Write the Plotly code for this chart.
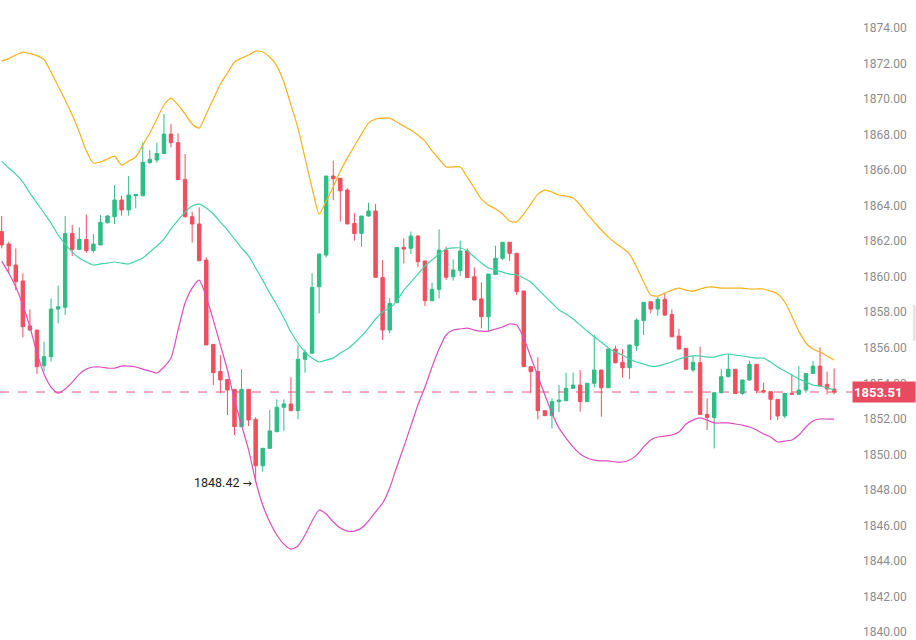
import plotly.graph_objects as go

opens = [1862.54,1861.84,1860.66,1859.76,1857.23,1857.00,1854.99,1855.50,1858.18,1858.28,
         1862.44,1861.54,1862.10,1861.47,1861.79,1863.04,1863.38,1864.32,1863.76,1864.56,
         1864.56,1866.42,1866.57,1866.94,1868.03,1867.55,1865.48,1863.38,1862.97,1860.94,
         1856.19,1854.66,1854.22,1853.66,1851.56,1853.66,1851.97,1849.36,1850.34,1851.28,
         1852.65,1852.84,1852.46,1855.35,1855.69,1859.44,1861.22,1865.67,1865.54,1864.88,
         1863.00,1862.44,1863.42,1863.70,1859.95,1857.00,1858.54,1861.65,1861.60,1862.29,
         1860.89,1858.65,1859.29,1861.50,1860.00,1860.34,1861.45,1860.00,1858.75,1857.75,
         1860.13,1861.04,1861.94,1861.32,1859.20,1854.94,1854.66,1852.46,1852.18,1852.97,
         1853.02,1853.72,1853.90,1852.97,1854.00,1854.75,1853.75,1855.93,1855.18,1854.88,
         1856.12,1857.53,1858.59,1858.18,1858.73,1857.88,1856.66,1855.97,1854.75,1855.16,
         1852.25,1852.08,1853.47,1854.37,1854.79,1853.43,1854.19,1855.07,1853.59,1853.53,
         1853.10,1852.16,1853.43,1853.38,1853.62,1854.56,1854.97,1853.94,1853.68]
highs = [1863.42,1861.97,1861.60,1860.19,1858.16,1857.00,1856.34,1858.78,1859.50,1863.42,
         1862.91,1862.78,1863.51,1862.40,1863.47,1863.47,1865.16,1864.56,1865.67,1864.64,
         1867.56,1867.13,1867.55,1869.16,1868.60,1868.07,1866.91,1863.66,1863.91,1861.09,
         1856.19,1855.59,1854.22,1853.66,1854.79,1853.66,1852.09,1850.34,1852.50,1853.10,
         1853.10,1854.34,1856.16,1855.91,1860.19,1861.28,1865.67,1866.53,1865.54,1864.98,
         1863.57,1863.42,1864.17,1864.09,1860.94,1858.78,1861.64,1862.16,1862.54,1862.35,
         1860.89,1859.67,1862.67,1861.69,1860.98,1862.03,1861.60,1860.53,1859.68,1860.15,
         1861.75,1861.94,1861.94,1861.32,1859.20,1854.94,1855.46,1852.46,1853.16,1853.90,
         1854.60,1854.60,1854.75,1854.04,1856.72,1854.75,1855.93,1856.12,1855.93,1856.16,
         1857.66,1858.56,1858.59,1858.88,1859.06,1858.16,1857.06,1855.97,1855.56,1856.06,
         1853.15,1853.47,1854.79,1855.65,1854.79,1854.19,1855.27,1855.07,1854.04,1853.53,
         1853.10,1853.47,1854.51,1854.97,1854.56,1855.26,1856.03,1854.66,1854.84]
lows = [1861.60,1860.19,1859.25,1856.59,1856.96,1854.52,1854.66,1855.22,1857.38,1857.85,
        1861.17,1861.50,1861.35,1861.35,1861.79,1863.00,1862.97,1863.44,1863.44,1863.85,
        1864.56,1866.38,1866.42,1866.91,1867.28,1865.44,1863.34,1861.92,1860.90,1856.16,
        1853.91,1853.44,1852.22,1851.09,1851.56,1851.60,1848.42,1849.03,1850.30,1851.24,
        1851.33,1852.46,1851.97,1854.60,1855.69,1857.94,1861.09,1864.32,1863.10,1862.97,
        1862.03,1861.69,1863.38,1859.97,1856.44,1856.81,1858.54,1860.75,1861.28,1860.53,
        1858.35,1858.65,1858.78,1859.82,1859.78,1860.04,1859.95,1858.69,1857.10,1856.91,
        1860.13,1860.94,1860.89,1858.97,1854.94,1853.44,1851.97,1852.18,1851.47,1852.37,
        1853.02,1853.68,1852.40,1852.97,1853.77,1852.12,1853.75,1855.12,1854.32,1854.24,
        1855.82,1856.72,1857.94,1857.81,1857.79,1856.62,1855.91,1854.79,1854.65,1852.25,
        1851.37,1850.34,1853.43,1854.34,1853.40,1853.34,1854.15,1853.43,1853.43,1851.93,
        1851.93,1852.03,1853.38,1853.34,1853.47,1854.52,1853.85,1853.38,1853.38]
closes = [1861.79,1860.62,1859.72,1857.19,1857.00,1854.94,1855.50,1858.18,1858.31,1862.44,
          1861.54,1862.10,1861.47,1861.84,1863.06,1863.42,1864.32,1863.76,1864.60,1864.64,
          1866.44,1866.61,1866.94,1868.03,1867.55,1865.48,1863.38,1862.97,1860.90,1856.16,
          1854.60,1854.19,1853.62,1851.56,1853.66,1851.94,1849.36,1850.34,1851.32,1852.65,
          1852.84,1852.46,1855.35,1855.73,1859.40,1861.28,1865.67,1865.52,1864.84,1862.97,
          1862.44,1863.42,1863.70,1859.97,1857.00,1858.50,1861.64,1861.56,1862.29,1860.85,
          1858.65,1859.29,1861.50,1859.97,1860.38,1861.45,1859.95,1858.69,1857.75,1860.15,
          1861.04,1861.94,1861.32,1859.16,1854.94,1854.66,1852.46,1852.18,1852.97,1853.06,
          1853.72,1853.90,1852.97,1854.00,1854.75,1853.75,1855.93,1855.16,1854.88,1856.16,
          1857.56,1858.56,1858.18,1858.73,1857.84,1856.62,1855.93,1854.79,1855.18,1852.25,
          1852.08,1853.47,1854.37,1854.79,1853.43,1854.19,1855.07,1853.59,1853.53,1853.10,
          1852.16,1853.43,1853.38,1853.62,1854.56,1854.97,1853.85,1853.68,1853.51]

upper_band = [1872.14,1872.28,1872.48,1872.65,1872.56,1872.45,1872.23,1871.52,1870.73,1869.95,
              1869.10,1868.15,1867.08,1866.40,1866.46,1866.63,1866.79,1866.29,1866.51,1866.74,
              1867.41,1868.09,1868.88,1869.67,1870.06,1869.67,1869.16,1868.60,1868.37,1869.16,
              1870.00,1870.85,1871.47,1872.09,1872.31,1872.48,1872.70,1872.65,1872.37,1871.86,
              1870.96,1869.67,1868.37,1866.68,1864.99,1863.53,1864.26,1865.05,1865.95,1866.68,
              1867.36,1868.03,1868.65,1868.88,1868.93,1868.93,1868.71,1868.48,1868.26,1867.98,
              1867.64,1867.08,1866.63,1866.18,1866.18,1866.18,1865.61,1864.99,1864.37,1864.04,
              1863.81,1863.53,1863.14,1863.08,1863.53,1864.09,1864.65,1864.88,1864.77,1864.60,
              1864.54,1864.43,1864.04,1863.53,1863.08,1862.63,1862.23,1861.90,1861.61,1861.28,
              1860.55,1859.70,1858.97,1858.91,1859.08,1859.25,1859.36,1859.25,1859.19,1859.31,
              1859.42,1859.42,1859.36,1859.36,1859.36,1859.36,1859.31,1859.31,1859.31,1859.19,
              1859.03,1858.58,1857.79,1856.94,1856.27,1855.93,1855.76,1855.54,1855.31]
middle_band = [1866.51,1866.12,1865.78,1865.33,1864.71,1864.15,1863.59,1863.02,1862.35,1861.84,
               1861.39,1861.05,1860.83,1860.66,1860.72,1860.77,1860.83,1860.77,1860.72,1860.88,
               1861.05,1861.39,1861.73,1862.12,1862.69,1863.19,1863.64,1863.98,1864.09,1863.87,
               1863.53,1863.08,1862.63,1862.12,1861.62,1861.17,1860.49,1859.81,1859.08,1858.41,
               1857.68,1856.89,1856.27,1855.76,1855.42,1855.20,1855.31,1855.42,1855.71,1855.93,
               1856.27,1856.66,1857.11,1857.62,1858.02,1858.24,1858.63,1859.25,1859.70,1860.15,
               1860.60,1860.94,1861.28,1861.56,1861.62,1861.62,1861.45,1861.11,1860.77,1860.49,
               1860.38,1860.26,1860.15,1860.10,1859.93,1859.70,1859.31,1858.91,1858.52,1858.13,
               1857.90,1857.62,1857.28,1856.94,1856.61,1856.33,1855.99,1855.76,1855.59,1855.37,
               1855.20,1855.09,1854.97,1854.97,1855.09,1855.20,1855.37,1855.48,1855.54,1855.54,
               1855.48,1855.48,1855.59,1855.65,1855.59,1855.54,1855.48,1855.42,1855.42,1855.20,
               1854.92,1854.69,1854.47,1854.24,1854.07,1853.90,1853.85,1853.74,1853.62]
lower_band = [1860.88,1860.21,1859.42,1858.41,1857.17,1855.71,1854.52,1853.79,1853.45,1853.68,
              1854.07,1854.52,1854.80,1854.92,1854.92,1854.86,1854.86,1854.97,1854.97,1854.92,
              1854.80,1854.69,1854.58,1854.92,1855.42,1857.00,1858.52,1859.36,1859.81,1858.86,
              1857.56,1856.16,1854.75,1853.06,1851.65,1850.25,1848.50,1847.15,1846.19,1845.46,
              1844.95,1844.67,1844.84,1845.46,1846.25,1846.87,1846.64,1846.19,1845.85,1845.68,
              1845.68,1845.85,1846.25,1846.76,1847.26,1848.11,1849.29,1850.42,1851.60,1852.78,
              1853.79,1854.92,1855.93,1856.72,1857.00,1857.06,1857.11,1857.00,1856.94,1856.94,
              1857.06,1857.17,1857.34,1857.28,1856.55,1855.48,1854.41,1853.34,1852.33,1851.48,
              1850.92,1850.42,1850.02,1849.80,1849.68,1849.63,1849.63,1849.57,1849.57,1849.68,
              1849.96,1850.42,1850.81,1850.98,1851.03,1851.09,1851.26,1851.71,1851.93,1852.05,
              1851.93,1851.77,1851.77,1851.77,1851.71,1851.65,1851.54,1851.37,1851.15,1850.98,
              1850.70,1850.75,1850.81,1851.09,1851.54,1851.88,1851.99,1851.99,1851.99]

y_ticks = [1840 + 2 * k for k in range(18)]
last_price = 1853.51
low_label = "1848.42"
low_index = 36

x = list(range(len(opens)))

GREEN = "#2ebd85"
RED = "#ef4f5f"

fig = go.Figure()
fig.add_trace(go.Scatter(x=x, y=upper_band, mode="lines",
                         line=dict(color="#f5b21c", width=1.2, shape="spline", smoothing=0.6),
                         hoverinfo="skip", showlegend=False))
fig.add_trace(go.Scatter(x=x, y=middle_band, mode="lines",
                         line=dict(color="#45d2a8", width=1.2, shape="spline", smoothing=0.6),
                         hoverinfo="skip", showlegend=False))
fig.add_trace(go.Scatter(x=x, y=lower_band, mode="lines",
                         line=dict(color="#dc4fbd", width=1.2, shape="spline", smoothing=0.6),
                         hoverinfo="skip", showlegend=False))
fig.add_trace(go.Candlestick(
    x=x, open=opens, high=highs, low=lows, close=closes,
    increasing=dict(line=dict(color=GREEN, width=1), fillcolor=GREEN),
    decreasing=dict(line=dict(color=RED, width=1), fillcolor=RED),
    whiskerwidth=0, showlegend=False, hoverinfo="skip"))

fig.add_shape(type="line", xref="paper", x0=0, x1=1.01, yref="y", y0=last_price, y1=last_price,
              line=dict(color="#e2587a", width=1, dash="dash"), layer="below")

fig.add_annotation(x=1, xref="paper", xanchor="left", xshift=8, y=last_price, yref="y",
                   text="<b>" + f"{last_price:.2f}" + "</b>", showarrow=False,
                   font=dict(color="white", size=13, family="Roboto"),
                   bgcolor="#e84a5f", width=60, height=18, borderpad=1, align="left")

fig.add_annotation(x=low_index - 0.3, y=lows[low_index], xanchor="right", yanchor="middle",
                   text=low_label + " <span style='font-family:DejaVu Sans;font-size:11px'>→</span>",
                   showarrow=False,
                   font=dict(color="#222222", size=12.5, family="Roboto"))

fig.add_shape(type="rect", xref="paper", x0=1.0815, x1=1.0855, yref="y", y0=1856.4, y1=1858.4,
              fillcolor="#e6e6e6", line=dict(width=0))

fig.update_layout(
    width=916, height=640,
    margin=dict(l=0, r=72, t=0, b=0),
    paper_bgcolor="white", plot_bgcolor="white",
    showlegend=False,
    xaxis=dict(range=[-0.24, 119.4], showgrid=False, zeroline=False, showticklabels=False,
               rangeslider=dict(visible=False), showline=False, ticks=""),
    yaxis=dict(side="right", range=[1839.55, 1875.58], tickvals=y_ticks,
               tickformat=".2f", showgrid=False, zeroline=False, showline=False,
               ticks="", ticklabelstandoff=18,
               tickfont=dict(color="#8c8c8c", size=12, family="Roboto")),
    hovermode=False,
)

fig.write_html("out.html")
